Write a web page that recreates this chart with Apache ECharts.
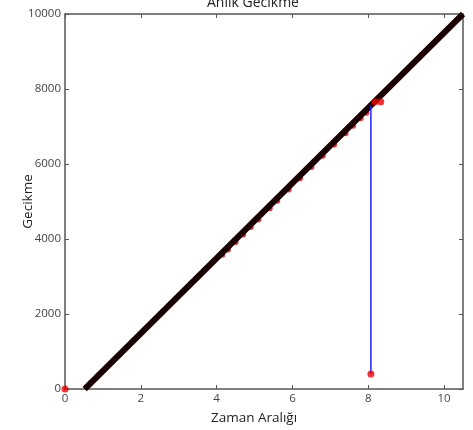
<!DOCTYPE html>
<html><head><meta charset="utf-8">
<script src="https://cdn.jsdelivr.net/npm/echarts@6/dist/echarts.min.js"></script>
<style>html,body{margin:0;padding:0;background:#fff}#c{width:473px;height:430px}</style>
</head><body><div id="c"></div>
<script>
const xTicks = [0, 2, 4, 6, 8, 10];
const yTicks = [0, 2000, 4000, 6000, 8000, 10000];
const mainLine = [[0.52, 0], [10.5, 10000]];
const redAlongLine = [[4.15,3580],[4.3,3720],[4.5,3920],[4.7,4120],[4.9,4320],[5.1,4520],[5.4,4820],[5.6,5020],[5.9,5320],[6.2,5620],[6.5,5920],[6.8,6220],[7.1,6520],[7.4,6820],[7.6,7020],[7.8,7220],[7.95,7370]];
const outlierLine = [[8.07, 400], [8.07, 7570]];
const redPoints = [[0, 0], [8.07, 400], [8.18, 7660], [8.33, 7660]];

const chart = echarts.init(document.getElementById('c'));
const axisCol = '#555';
const tickCommon = {show:true, inside:true, length:4, lineStyle:{color:axisCol}};
const lineCommon = {show:true, onZero:false, lineStyle:{color:axisCol, width:1.5}};
chart.setOption({
  animation:false,
  title:{text:'Anlık Gecikme', left:202, top:-9, textStyle:{fontFamily:'Open Sans', fontSize:14, fontWeight:'normal', color:'#222'}},
  grid:{left:65, right:10, top:14, bottom:38},
  xAxis:[{type:'value', min:0, max:10.5, interval:2, position:'bottom',
    name:'Zaman Aralığı', nameLocation:'middle', nameGap:22, nameMoveOverlap:false,
    nameTextStyle:{fontFamily:'Open Sans', fontSize:13.5, color:'#222', padding:[0,20,0,0]},
    axisLine:lineCommon, axisTick:tickCommon,
    axisLabel:{showMaxLabel:false, margin:4, fontFamily:'Open Sans', fontSize:11.5, color:'#444', formatter: v => xTicks.includes(v) ? String(v) : ''},
    splitLine:{show:false}},
   {type:'value', min:0, max:10.5, interval:2, position:'top',
    axisLine:lineCommon, axisTick:tickCommon,
    axisLabel:{show:false}, splitLine:{show:false}}],
  yAxis:[{type:'value', min:0, max:10000, interval:2000, position:'left',
    name:'Gecikme', nameLocation:'middle', nameGap:30, nameMoveOverlap:false,
    nameTextStyle:{fontFamily:'Open Sans', fontSize:13.5, color:'#222'},
    axisLine:lineCommon, axisTick:tickCommon,
    axisLabel:{margin:4, fontFamily:'Open Sans', fontSize:11.5, color:'#444', formatter: v => yTicks.includes(v) ? String(v) : ''},
    splitLine:{show:false}},
   {type:'value', min:0, max:10000, interval:2000, position:'right',
    axisLine:lineCommon, axisTick:tickCommon,
    axisLabel:{show:false}, splitLine:{show:false}}],
  series:[
    {type:'scatter', data:redAlongLine, symbolSize:6, itemStyle:{color:'#e00000'}, z:2},
    {type:'line', data:mainLine, showSymbol:false, clip:true, lineStyle:{color:'#1a0000', width:6}, z:3},
    {type:'line', data:outlierLine, showSymbol:false, lineStyle:{color:'#2020ff', width:1.5}, z:4},
    {type:'scatter', data:redPoints, symbolSize:7, itemStyle:{color:'#ee0000'}, z:5}
  ]
});
</script></body></html>
